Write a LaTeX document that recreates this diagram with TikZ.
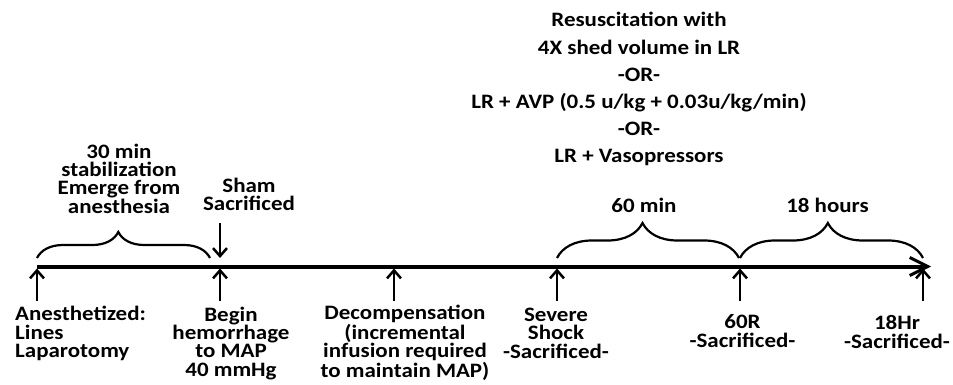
\documentclass[tikz,border=0pt]{standalone}
\usepackage{fontspec}
\setmainfont{Carlito}[FakeStretch=1.12]
\usetikzlibrary{arrows.meta,decorations.pathreplacing}
\tikzset{
  lab/.style={font=\bfseries\fontsize{20.5}{18.3}\selectfont, align=center, inner sep=0pt, anchor=base},
  tick/.style={line width=2.5pt, -{Straight Barb[length=8pt,width=14pt,line width=2.5pt]}},
  brc/.style={line width=2.2pt, decorate, decoration={brace, amplitude=#1}},
}
\begin{document}
\begin{tikzpicture}[x=1pt,y=-1pt]
\useasboundingbox[fill=white] (0,0) rectangle (953,385);
% timeline points
\coordinate (t0) at (37,266.5);
\coordinate (tend) at (931,266.5);
\coordinate (t1) at (37,268.5);
\coordinate (t2) at (220,268.5);
\coordinate (t3) at (394,268.5);
\coordinate (t4) at (557,268.5);
\coordinate (t5) at (740,268.5);
\coordinate (t6) at (923,268.5);
\coordinate (b1) at (37,301);
\coordinate (b2) at (220,301);
\coordinate (b3) at (394,301);
\coordinate (b4) at (557,301);
\coordinate (b5) at (740,301);
\coordinate (b6) at (923,301);
\draw[line width=4pt, -{Straight Barb[length=18pt,width=18pt,line width=3pt]}] (t0) -- (tend);
\foreach \i in {1,...,6} \draw[tick] (b\i) -- (t\i);
% sham arrow
\coordinate (s0) at (220,223);
\coordinate (s1) at (220,258);
\draw[tick] (s0) -- (s1);
% braces
\draw[brc=26pt, decoration={aspect=0.47}] (37,258) -- (210,258);
\draw[brc=35pt, decoration={aspect=0.47}] (557,258) -- (739,258);
\draw[brc=35pt, decoration={aspect=0.48}] (740,258) -- (923,258);
% labels (base = baseline of last line)
\node[lab] (stab) at (119,213) {30 min\\stabilization\\Emerge from\\anesthesia};
\node[lab] (sham) at (249,210.5) {Sham\\Sacrificed};
\node[lab] (m60) at (644,212) {60 min};
\node[lab] (h18) at (827.5,212) {18 hours};
\node[lab, font=\bfseries\fontsize{20.5}{27.2}\selectfont] (resus) at (639,163) {Resuscitation with\\4X shed volume in LR\\-OR-\\LR + AVP (0.5 u/kg + 0.03u/kg/min)\\-OR-\\LR + Vasopressors};
\node[lab, anchor=base west, align=left] (anes) at (15,357.5) {Anesthetized:\\Lines\\Laparotomy};
\node[lab] (begin) at (231,376) {Begin\\hemorrhage\\to MAP\\40 mmHg};
\node[lab] (decomp) at (405,377) {Decompensation\\(incremental\\infusion required\\to maintain MAP)};
\node[lab] (severe) at (556,358) {Severe\\Shock\\-Sacrificed-};
\node[lab] (r60) at (742.5,347) {60R\\-Sacrificed-};
\node[lab] (hr18) at (897,348) {18Hr\\-Sacrificed-};
\end{tikzpicture}
\end{document}
